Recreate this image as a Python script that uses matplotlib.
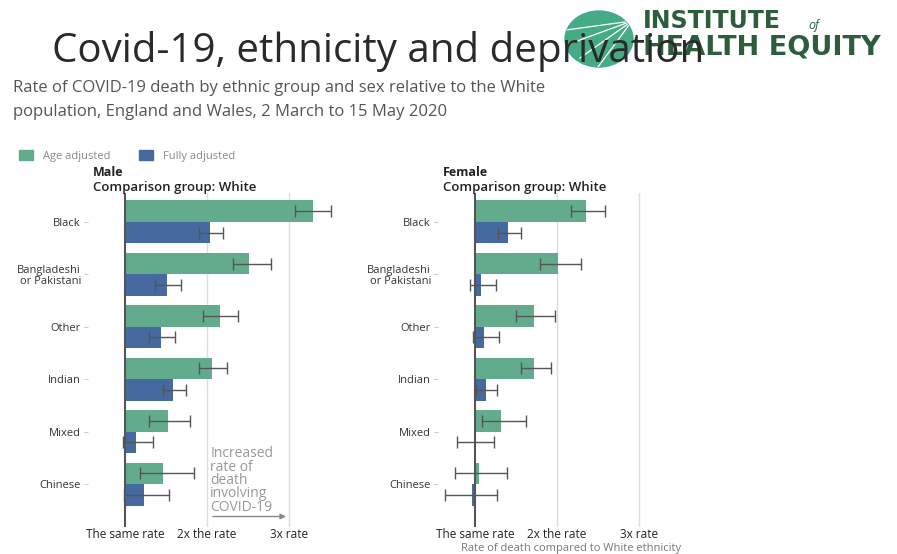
import numpy as np
import matplotlib.pyplot as plt
from matplotlib.patches import Ellipse

plt.rcParams['font.family'] = ['Open Sans', 'DejaVu Sans']

groups = ['Black', 'Bangladeshi\nor Pakistani', 'Other', 'Indian', 'Mixed', 'Chinese']

# rate ratio vs White, with lower / upper confidence limits
male_age = [3.29, 2.52, 2.16, 2.06, 1.52, 1.46]
male_age_lo = [3.08, 2.32, 1.95, 1.90, 1.29, 1.18]
male_age_hi = [3.52, 2.78, 2.38, 2.24, 1.80, 1.84]
male_full = [2.04, 1.51, 1.44, 1.59, 1.13, 1.23]
male_full_lo = [1.90, 1.37, 1.29, 1.46, 0.98, 0.99]
male_full_hi = [2.20, 1.68, 1.61, 1.74, 1.34, 1.54]

female_age = [2.35, 2.01, 1.72, 1.72, 1.32, 1.05]
female_age_lo = [2.17, 1.79, 1.50, 1.56, 1.09, 0.76]
female_age_hi = [2.59, 2.29, 1.98, 1.93, 1.62, 1.39]
female_full = [1.41, 1.07, 1.11, 1.13, 0.99, 0.97]
female_full_lo = [1.28, 0.94, 0.98, 1.01, 0.78, 0.63]
female_full_hi = [1.56, 1.26, 1.30, 1.27, 1.23, 1.27]

tick_vals = [1, 2, 3]
tick_text = ['The same rate', '2x the rate', '3x rate']

GREEN = '#62ab8c'
BLUE = '#46699f'
LOGO_GREEN = '#2d5e3c'
W, H = 897, 554

fig = plt.figure(figsize=(W / 100, H / 100), dpi=100)


def draw_panel(ax, age, age_lo, age_hi, full, full_lo, full_hi):
    y = np.arange(len(groups))
    h = 0.41
    for vals, lo, hi, off, col in [(age, age_lo, age_hi, -h / 2, GREEN),
                                   (full, full_lo, full_hi, h / 2, BLUE)]:
        vals = np.array(vals)
        ax.barh(y + off, vals - 1, left=1, height=h, color=col, zorder=2)
        err = [vals - np.array(lo), np.array(hi) - vals]
        ax.errorbar(vals, y + off, xerr=err, fmt='none', ecolor='#555555',
                    elinewidth=1, capsize=4, capthick=1, zorder=3)
    for v in tick_vals[1:]:
        ax.axvline(v, color='#dddddd', lw=1, zorder=0)
    ax.axvline(1, color='#555555', lw=1.5, zorder=4)
    ax.set_xlim(0.55, 3.6)
    ax.set_ylim(5.82, -0.55)
    ax.set_yticks(y)
    ax.set_yticklabels(groups, fontsize=8, color='#333333', linespacing=1.0)
    ax.set_xticks(tick_vals)
    ax.set_xticklabels(tick_text, fontsize=8.5, color='#222222')
    ax.tick_params(axis='y', length=3, color='#cccccc', pad=2)
    ax.tick_params(axis='x', length=0, pad=1)
    for s in ax.spines.values():
        s.set_visible(False)


ax_m = fig.add_axes([88 / W, 1 - 527 / H, 250 / W, 334 / H])
ax_f = fig.add_axes([438 / W, 1 - 527 / H, 250 / W, 334 / H])
draw_panel(ax_m, male_age, male_age_lo, male_age_hi,
           male_full, male_full_lo, male_full_hi)
draw_panel(ax_f, female_age, female_age_lo, female_age_hi,
           female_full, female_full_lo, female_full_hi)

fig.text(571 / W, 1 - 549 / H, 'Rate of death compared to White ethnicity',
         fontsize=8, color='#777777', ha='center', va='center')

# annotation with arrow in male panel
ax_m.text(2.04, 4.28, 'Increased\nrate of\ndeath\ninvolving\nCOVID-19',
          fontsize=10, color='#999999', va='top', ha='left', linespacing=0.85)
ax_m.annotate('', xy=(3.0, 5.62), xytext=(2.04, 5.62),
              arrowprops=dict(arrowstyle='-|>', color='#888888', lw=1,
                              mutation_scale=8))

# panel headers
for x0, name in [(93, 'Male'), (443, 'Female')]:
    fig.text(x0 / W, 1 - 173 / H, name, fontsize=9, fontweight='bold',
             color='#222222', va='center')
    fig.text(x0 / W, 1 - 187 / H, 'Comparison group: White', fontsize=9.5,
             fontweight='semibold', color='#222222', va='center')

# legend
for x0, col, lab in [(19, GREEN, 'Age adjusted'), (139, BLUE, 'Fully adjusted')]:
    fig.patches.append(plt.Rectangle((x0 / W, 1 - 160 / H), 14 / W, 10 / H,
                                     transform=fig.transFigure, color=col))
    fig.text((x0 + 24) / W, 1 - 156 / H, lab, fontsize=8, color='#888888',
             va='center')

# subtitle
fig.text(13 / W, 1 - 88 / H,
         'Rate of COVID-19 death by ethnic group and sex relative to the White',
         fontsize=12, color='#555555', va='center')
fig.text(13 / W, 1 - 112 / H,
         'population, England and Wales, 2 March to 15 May 2020',
         fontsize=12, color='#555555', va='center')

# logo: disc with rays plus wordmark
logo = fig.add_axes([0, 0, 1, 1], zorder=0)
logo.set_xlim(0, W)
logo.set_ylim(H, 0)
logo.axis('off')
disc = Ellipse((599, 39), 68, 56, color='#45ab84', zorder=1)
logo.add_patch(disc)
for ex, ey in [(566, 30), (569, 44), (580, 58), (598, 67)]:
    ray, = logo.plot([632, ex], [21, ey], color='white', lw=0.9, zorder=2)
    ray.set_clip_path(disc)

logo.text(643, 21, 'INSTITUTE', fontsize=17, fontweight='bold',
          family='DejaVu Sans', color=LOGO_GREEN, va='center', zorder=3)
logo.text(808, 26, 'of', fontsize=9, style='italic', color=LOGO_GREEN,
          va='center', zorder=3)
logo.text(643, 47, 'HEALTH EQUITY', fontsize=19.5, fontweight='bold',
          family='DejaVu Sans', color=LOGO_GREEN, va='center', zorder=3)

# title
fig.text(52 / W, 1 - 52 / H, 'Covid-19, ethnicity and deprivation',
         fontsize=29, color='#2a2a2a', va='center', zorder=5)

fig.savefig('out.png', dpi=100)
